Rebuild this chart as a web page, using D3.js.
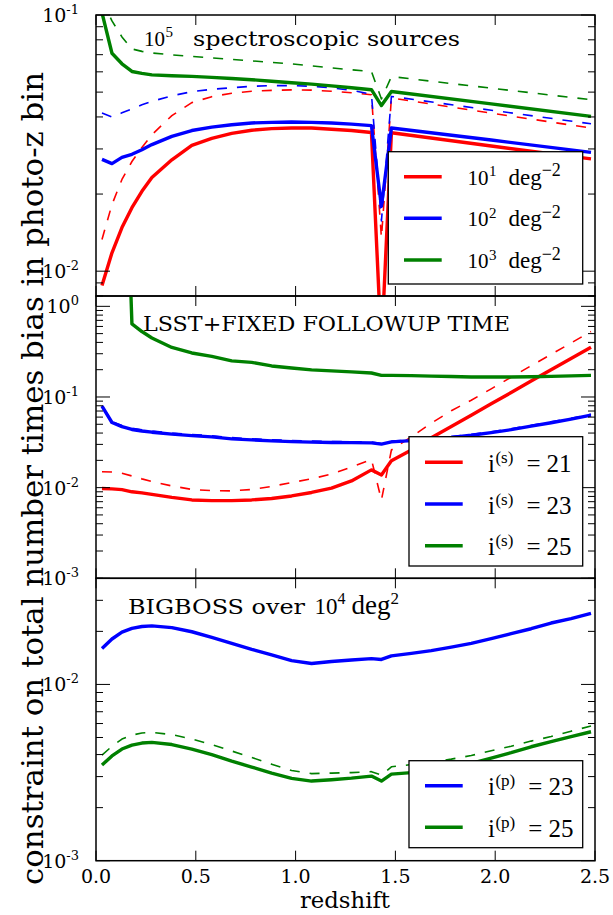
<!DOCTYPE html>
<html><head><meta charset="utf-8">
<script src="https://cdn.jsdelivr.net/npm/d3@7"></script>
<style>
body{margin:0;background:#fff}
svg{display:block}
text{font-family:"DejaVu Serif",serif;fill:#000}
text.math{font-family:"Liberation Serif","DejaVu Serif",serif}
</style>
</head><body>
<svg id="c" width="613" height="915"></svg>
<script>
// ---------- data ----------
const zTop = [0.03,0.08,0.13,0.18,0.23,0.28,0.38,0.48,0.58,0.68,0.78,0.88,0.98,1.08,1.18,1.28,1.38,1.43,1.48,1.98,2.48];
const topRedSolid   = [0.0088,0.0118,0.0148,0.0177,0.0205,0.0232,0.0272,0.031,0.033,0.0345,0.0355,0.036,0.0362,0.0362,0.0358,0.0354,0.0348,0.005,0.0347,0.0308,0.02745];
const topRedDashed  = [0.0133,0.0182,0.0228,0.0268,0.0304,0.0341,0.0405,0.0455,0.048,0.0495,0.0504,0.0508,0.051,0.0509,0.0504,0.0497,0.0488,0.0135,0.0474,0.0414,0.0362];
const topBlueSolid  = [0.0273,0.0263,0.0278,0.0286,0.0298,0.0312,0.0336,0.0354,0.0365,0.0373,0.0379,0.0381,0.0382,0.0381,0.0379,0.0375,0.037,0.0179,0.0362,0.0325,0.0291];
const topBlueDashed = [0.0414,0.04,0.0415,0.043,0.0446,0.046,0.0484,0.0502,0.0513,0.052,0.0527,0.053,0.053,0.0527,0.052,0.0508,0.0491,0.0157,0.0481,0.0425,0.0376];
const topGreenSolid = [0.102,0.0709,0.0645,0.0602,0.0592,0.0584,0.0579,0.0576,0.0571,0.0565,0.0559,0.0551,0.0544,0.0537,0.0529,0.052,0.0511,0.0443,0.0503,0.045,0.0402];
const topGreenDashed= [0.115,0.0948,0.0821,0.0737,0.0721,0.0711,0.0699,0.0689,0.068,0.0671,0.0662,0.0653,0.0645,0.0633,0.0622,0.0611,0.0602,0.047,0.0575,0.0518,0.0467];

const zMid = [0.03,0.08,0.13,0.18,0.23,0.28,0.38,0.48,0.58,0.68,0.78,0.88,0.98,1.08,1.18,1.28,1.38,1.43,1.48,1.58,1.68,1.78,1.88,1.98,2.08,2.18,2.28,2.38,2.48];
const midRedSolid   = [0.0098,0.0097,0.0095,0.009,0.00875,0.00842,0.0078,0.00732,0.0072,0.0072,0.00732,0.0076,0.0081,0.00885,0.0099,0.01185,0.0157,0.0138,0.0198,0.026,0.0356,0.0472,0.063,0.084,0.112,0.15,0.2,0.266,0.354];
const midRedDashed  = [0.015,0.0149,0.0144,0.01345,0.0125,0.0117,0.01044,0.00955,0.00927,0.0092,0.00955,0.0103,0.0114,0.0125,0.0141,0.0169,0.0205,0.0073,0.026,0.0364,0.0514,0.0705,0.0922,0.123,0.165,0.221,0.295,0.394,0.527];
const midBlueSolid  = [0.0791,0.0523,0.0471,0.0438,0.0422,0.0409,0.0389,0.0375,0.0363,0.0345,0.0336,0.0328,0.0322,0.0318,0.0315,0.0314,0.0312,0.0302,0.032,0.033,0.0343,0.0358,0.0378,0.0404,0.0436,0.0477,0.052,0.0569,0.063];
const midBlueDashed = [0.0795,0.0535,0.0485,0.0452,0.0436,0.0422,0.0401,0.0386,0.0374,0.0356,0.0346,0.0337,0.0331,0.0326,0.0322,0.0321,0.0318,0.0306,0.0326,0.0336,0.035,0.0366,0.0386,0.0413,0.0446,0.0487,0.0532,0.0582,0.0645];
const midGreenSolid = [1000,1000,1000,0.641,0.527,0.448,0.352,0.306,0.28,0.25,0.241,0.22,0.209,0.199,0.194,0.189,0.184,0.173,0.173,0.172,0.17,0.168,0.166,0.166,0.166,0.167,0.169,0.171,0.173];

const zBot = [0.03,0.08,0.13,0.18,0.23,0.28,0.38,0.48,0.58,0.68,0.78,0.88,0.98,1.08,1.18,1.28,1.38,1.43,1.48,1.58,1.68,1.78,1.88,1.98,2.08,2.18,2.28,2.38,2.48];
const botBlueSolid   = [0.016,0.0181,0.0198,0.0208,0.0213,0.0215,0.021,0.0199,0.0185,0.0171,0.0158,0.0147,0.01364,0.01315,0.0135,0.01376,0.014,0.01386,0.01453,0.015,0.01556,0.01627,0.0171,0.0182,0.0194,0.0207,0.0223,0.0236,0.0253];
const botGreenSolid  = [0.00349,0.00393,0.0043,0.00453,0.00465,0.00469,0.00456,0.0043,0.004,0.00367,0.0034,0.00314,0.00293,0.00283,0.00288,0.00294,0.00302,0.00283,0.0031,0.00316,0.00327,0.0034,0.00356,0.00382,0.0041,0.00443,0.00474,0.00506,0.00539];
const botGreenDashed = [0.00397,0.00446,0.0049,0.00516,0.0053,0.00535,0.00519,0.0049,0.00456,0.00419,0.00385,0.00353,0.00325,0.00312,0.00314,0.00316,0.0032,0.00306,0.00341,0.00351,0.00363,0.00377,0.00395,0.00421,0.00446,0.00477,0.00506,0.00543,0.00581];

const xTicks = [0.0,0.5,1.0,1.5,2.0,2.5];
const xTickLabels = ["0.0","0.5","1.0","1.5","2.0","2.5"];
const topLegend = [{b:"10",s:"1",color:"#ff0000"},{b:"10",s:"2",color:"#0000ff"},{b:"10",s:"3",color:"#008000"}];
const midLegend = [{t:"21",color:"#ff0000"},{t:"23",color:"#0000ff"},{t:"25",color:"#008000"}];
const botLegend = [{t:"23",color:"#0000ff"},{t:"25",color:"#008000"}];

const RED="#ff0000", BLUE="#0000ff", GREEN="#008000";

// ---------- layout ----------
const svg = d3.select('#c');
const x = d3.scaleLinear().domain([0,2.5]).range([96,595]);
const X0 = 96, X1 = 595;

const panels = [
  {id:'p0', top:15, bottom:296, domain:[0.008,0.1], z:zTop, labels:[-1,-2],
   series:[
     {v:topRedDashed,c:RED,d:true},{v:topBlueDashed,c:BLUE,d:true},{v:topGreenDashed,c:GREEN,d:true},
     {v:topRedSolid,c:RED},{v:topBlueSolid,c:BLUE},{v:topGreenSolid,c:GREEN}]},
  {id:'p1', top:296, bottom:578.3, domain:[0.001,1.3], z:zMid, labels:[0,-1,-2,-3],
   series:[
     {v:midRedDashed,c:RED,d:true},{v:midBlueDashed,c:BLUE,d:true},
     {v:midRedSolid,c:RED},{v:midBlueSolid,c:BLUE},{v:midGreenSolid,c:GREEN}]},
  {id:'p2', top:578.3, bottom:860.7, domain:[0.001,0.04], z:zBot, labels:[-2,-3],
   series:[
     {v:botGreenDashed,c:GREEN,d:true},
     {v:botBlueSolid,c:BLUE},{v:botGreenSolid,c:GREEN}]}
];

const defs = svg.append('defs');

panels.forEach(p=>{
  const y = d3.scaleLog().domain(p.domain).range([p.bottom,p.top]);
  p.y = y;
  defs.append('clipPath').attr('id','clip-'+p.id).append('rect')
    .attr('x',X0).attr('y',p.top).attr('width',X1-X0).attr('height',p.bottom-p.top);
  const g = svg.append('g');
  const lg = g.append('g').attr('clip-path','url(#clip-'+p.id+')');
  const line = d3.line().x((d,i)=>x(p.z[i])).y(d=>y(d));
  p.series.forEach(s=>{
    lg.append('path').attr('d',line(s.v)).attr('fill','none')
      .attr('stroke',s.c).attr('stroke-width',s.d?1.6:3.4)
      .attr('stroke-linejoin','round')
      .attr('stroke-dasharray',s.d?'10,10':null);
  });
  // y ticks
  const [lo,hi] = p.domain;
  const ticks = [];
  for(let e=Math.floor(Math.log10(lo)); e<=Math.ceil(Math.log10(hi)); e++){
    for(let m=1;m<10;m++){
      const v = m*Math.pow(10,e);
      if(v>=lo*0.9999 && v<=hi*1.0001) ticks.push({v, major:m===1});
    }
  }
  ticks.forEach(t=>{
    const ty = y(t.v), L = t.major?14:7;
    g.append('line').attr('x1',X0).attr('x2',X0+L).attr('y1',ty).attr('y2',ty).attr('stroke','#000').attr('stroke-width',1);
    g.append('line').attr('x1',X1).attr('x2',X1-L).attr('y1',ty).attr('y2',ty).attr('stroke','#000').attr('stroke-width',1);
  });
  // x ticks
  xTicks.forEach(t=>{
    const tx = x(t);
    g.append('line').attr('x1',tx).attr('x2',tx).attr('y1',p.top).attr('y2',p.top+10).attr('stroke','#000').attr('stroke-width',1);
    g.append('line').attr('x1',tx).attr('x2',tx).attr('y1',p.bottom).attr('y2',p.bottom-10).attr('stroke','#000').attr('stroke-width',1);
  });
  // frame
  g.append('rect').attr('x',X0).attr('y',p.top).attr('width',X1-X0).attr('height',p.bottom-p.top)
    .attr('fill','none').attr('stroke','#000').attr('stroke-width',1.5);
  // y tick labels
  p.labels.forEach(e=>{
    const ty = y(Math.pow(10,e));
    const t = svg.append('text').attr('x',79).attr('y',ty+7).attr('text-anchor','end').style('font-size','19px');
    t.append('tspan').text('10');
    t.append('tspan').attr('dy',-8).style('font-size','13px').text(e===0?'0':'-'+(-e));
  });
});

// x tick labels
xTicks.forEach((t,i)=>{
  svg.append('text').attr('x',x(t)).attr('y',883).attr('text-anchor','middle').style('font-size','19px').text(xTickLabels[i]);
});
svg.append('text').attr('x',345).attr('y',908).attr('text-anchor','middle').style('font-size','22px')
  .attr('textLength',90).attr('lengthAdjust','spacingAndGlyphs').text('redshift');

// y label
svg.append('text').attr('transform','translate(43,478.5) rotate(-90)').attr('text-anchor','middle')
  .style('font-size','30px').attr('textLength',813).attr('lengthAdjust','spacingAndGlyphs')
  .text('constraint on total number times bias in photo-z bin');

// one flowing text element: parts are [str, size, dx, dy]
function mathText(px, py, parts){
  const t = svg.append('text').attr('class','math').attr('x',px).attr('y',py);
  parts.forEach(([str,size,dx,dy])=>{
    const s = t.append('tspan').style('font-size',size+'px');
    if(dx) s.attr('dx',dx);
    if(dy) s.attr('dy',dy);
    s.text(str);
  });
  return t;
}
function plain(str, px, py, size, len){
  return svg.append('text').attr('x',px).attr('y',py).style('font-size',size+'px')
    .attr('textLength',len).attr('lengthAdjust','spacingAndGlyphs').text(str);
}

// annotations
mathText(144, 45.5, [['10',21,0,0],['5',15,0.5,-9]]);
plain('spectroscopic sources',193,45.5,21,267);
plain('LSST+FIXED FOLLOWUP TIME',143,331,20,367);
plain('BIGBOSS over',128,614,20,177);
mathText(314.5, 613.5, [['10',23,0,0],['4',16,0,-10],['deg',27,6,10],['2',17,0,-10]]);

// legends
function legendBox(x0,y0,x1,y1){
  svg.append('rect').attr('x',x0).attr('y',y0).attr('width',x1-x0).attr('height',y1-y0)
    .attr('fill','#fff').attr('stroke','#000').attr('stroke-width',1.3);
}
legendBox(388.3,151.7,582.7,284);
const topRows=[176.7,218.3,260];
topLegend.forEach((d,i)=>{
  const ry=topRows[i];
  svg.append('line').attr('x1',404).attr('x2',441.7).attr('y1',ry).attr('y2',ry).attr('stroke',d.color).attr('stroke-width',3.4);
  mathText(467.5, ry+8, [[d.b,21,0,0],[d.s,15,0.5,-8.5],['deg',23,12,8.5],['\u22122',18,0,-8.5]]);
});

function iLegend(rows, sup, data){
  data.forEach((d,i)=>{
    const ry=rows[i];
    svg.append('line').attr('x1',425).attr('x2',462.7).attr('y1',ry).attr('y2',ry).attr('stroke',d.color).attr('stroke-width',3.4);
    mathText(488, ry+9.5, [['i',25,0,0],[sup,17,0.5,-9],['=',25,13,9],[d.t,25,6,0]]);
  });
}
legendBox(409,436.7,582.7,566);
iLegend([462.3,504,545.7],'(s)',midLegend);
legendBox(409,760.7,582.7,847.7);
iLegend([785.7,827.3],'(p)',botLegend);
</script>
</body></html>
